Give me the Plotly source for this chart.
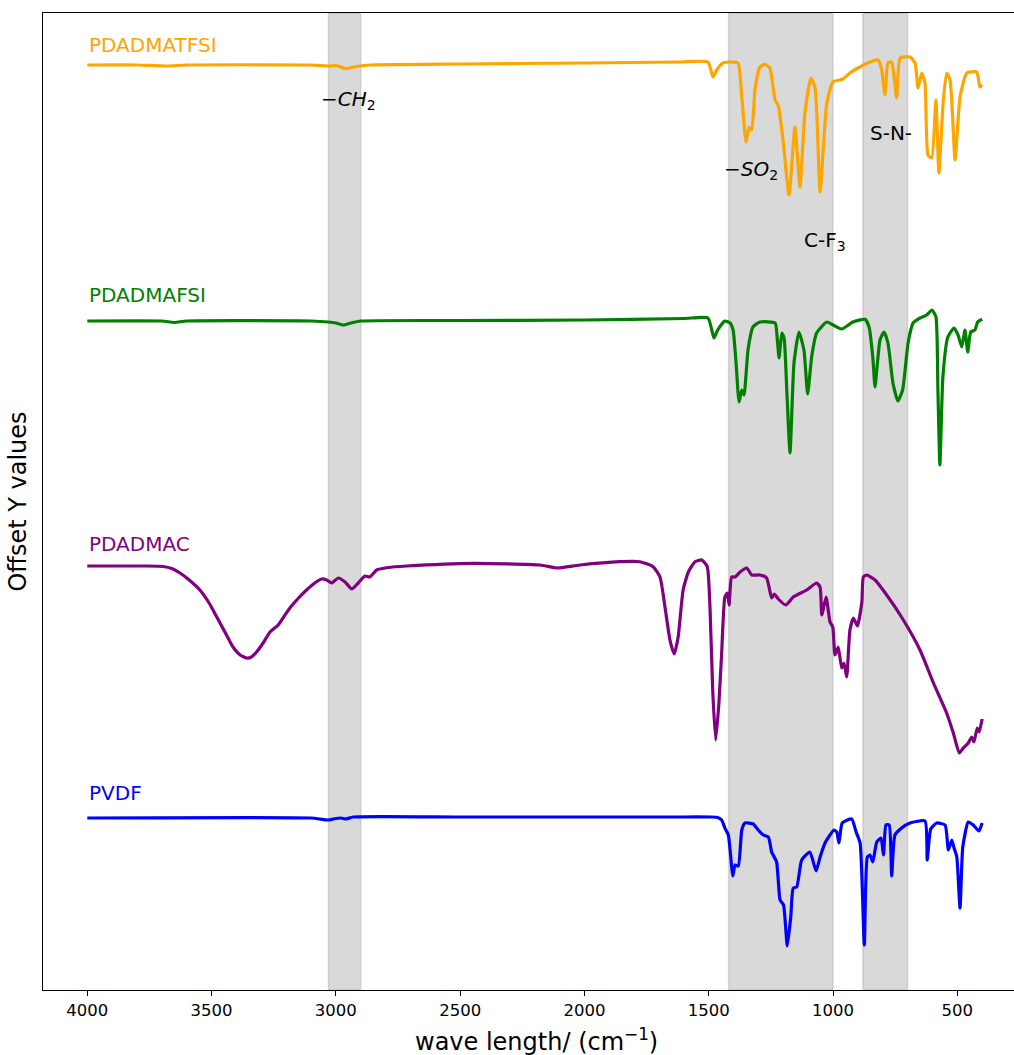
import plotly.graph_objects as go

# FTIR spectra, stacked with a vertical offset (signal = depth relative to each baseline)
names = ["PDADMATFSI", "PDADMAFSI", "PDADMAC", "PVDF"]
colors = ["orange", "green", "purple", "blue"]
offsets = [925, 669, 424, 172]
label_y = [945, 695, 446, 197.5]

tfsi_wn = [4000, 3800, 3680, 3600, 3100, 3020, 3000, 2960, 2930, 2900, 2860, 2500, 2000, 1620,
           1503, 1483, 1468, 1443, 1414, 1382, 1367, 1350, 1338, 1327, 1314, 1294, 1274, 1254,
           1233, 1221, 1201, 1177, 1153, 1133, 1113, 1089, 1072, 1052, 1025, 1000, 960, 932,
           892, 851, 819, 804, 791, 779, 764, 755, 744, 730, 690, 670, 658, 643, 630, 618,
           603, 586, 574, 557, 543, 529, 509, 489, 462, 422, 409, 400]
tfsi_sig = [0, 0, -1, 0, 0, -1, -0.5, -3.5, -2, -1, 0, 1, 2, 3,
            3, -12, -5, 2, 3, 2, -32, -77, -62, -65, -25, -2, 0.7, -3,
            -35, -40, -75, -130, -62, -122, -48, -13, -23, -127, -38, -17, -14, -8,
            -2, 3, 5, -5, -30, 2, 3, -10, -33, 7, 8, 2, -23, -8, -18, -90,
            -93, -35, -108, -38, -8, -15, -95, -32, -8, -7, -22, -20]

fsi_wn = [4000, 3700, 3650, 3600, 3100, 3030, 3000, 2970, 2940, 2900, 2500, 2000, 1600,
          1503, 1479, 1464, 1435, 1414, 1402, 1390, 1378, 1367, 1358, 1342, 1322, 1294,
          1233, 1225, 1217, 1206, 1197, 1186, 1173, 1157, 1137, 1117, 1102, 1086, 1066,
          1025, 1000, 965, 920, 871, 855, 840, 831, 811, 795, 779, 759, 739, 720, 698,
          678, 650, 623, 602, 586, 578, 570, 558, 538, 513, 497, 482, 469, 458, 446,
          429, 418, 400]
fsi_sig = [0, 0, -1.5, 0, 0, -1, -2, -4, -2, 0, 0.5, 1, 2.5,
           3, -17, -9, 0, -2, -9, -42, -81, -69, -74, -29, -6, -1,
           -2, -16, -37, -12, -17, -69, -132, -42, -11, -29, -73, -36, -12,
           -1, -4, -8, -1, 1.7, -6, -36, -66, -19, -11, -22, -62, -80, -69, -22,
           -2, 3, 6, 11, 4, -69, -144, -56, -16, -7, -14, -26, -9, -31, -11,
           -9, -1, 1.7]

cl_wn = [4000, 3760, 3695, 3660, 3627, 3590, 3547, 3510, 3479, 3440, 3414, 3385, 3359,
         3340, 3319, 3290, 3265, 3232, 3210, 3185, 3150, 3118, 3085, 3057,
         3037, 3017, 2990, 2963, 2936, 2910, 2883, 2863, 2836, 2790, 2715, 2448, 2179, 2110,
         2018, 1857, 1777, 1724, 1696, 1676, 1656, 1639, 1623, 1603, 1582, 1555, 1528,
         1506, 1495, 1484, 1472, 1459, 1448, 1435, 1425, 1418, 1408, 1394, 1374, 1347,
         1327, 1294, 1267, 1247, 1236, 1220, 1190, 1160, 1106, 1066, 1052, 1045, 1028,
         1012, 1001, 992, 979, 965, 956, 945, 932, 918, 902, 884, 878, 864, 831, 784,
         717, 650, 596, 543, 516, 492, 476, 456, 442, 433, 420, 412, 400]
cl_sig = [0, 0, -0.5, -2.5, -7, -14, -24, -37, -51, -69, -81, -89, -92,
          -91, -86, -76, -66, -59, -51, -42, -32, -24, -17, -13,
          -14, -17, -12, -16, -23, -17, -10, -11, -4, -1.5, 0, 2.7, 1, -2,
          1, 4.3, 4.3, -0.7, -11, -41, -74, -88, -71, -24, -6, 4.3, 6,
          -0.7, -41, -124, -174, -137, -87, -31, -27, -39, -11, -11, -6, -2,
          -9, -9, -12, -32, -28, -33, -39, -31, -24, -17, -21, -49, -31,
          -56, -61, -89, -81, -102, -97, -111, -64, -52, -60, -36, -11, -9, -14, -29,
          -54, -84, -117, -147, -167, -187, -182, -177, -171, -176, -162, -166, -153]

pvdf_wn = [4000, 3100, 3030, 3010, 2980, 2960, 2930, 2500, 2000, 1600, 1490, 1468, 1448,
           1435, 1421, 1414, 1403, 1394, 1381, 1367, 1354, 1321, 1301, 1280, 1260, 1247,
           1227, 1213, 1199, 1184, 1170, 1160, 1146, 1126, 1093, 1068, 1052, 1032, 996,
           985, 976, 963, 925, 907, 891, 874, 862, 851, 840, 824, 807, 797, 787, 774,
           764, 751, 724, 690, 630, 621, 607, 583, 549, 536, 522, 513, 502, 489, 478,
           456, 436, 413, 400]
pvdf_sig = [0, 0, -2, -1, 0, -1, 1, 1, 1, 1, 1, 0.7, -2,
            -10, -17, -32, -58, -47, -48, -12, -5, -6, -12, -17, -19, -34,
            -44, -82, -87, -128, -99, -70, -69, -42, -34, -53, -39, -25, -12,
            -14, -25, -5, -1, -14, -25, -127, -39, -37, -44, -24, -20, -37, -7, -7,
            -58, -17, -10, -5, -3, -42, -11, -5, -7, -32, -22, -30, -39, -90, -29,
            -4, -7, -13, -5]

wavenumbers = [tfsi_wn, fsi_wn, cl_wn, pvdf_wn]
signals = [tfsi_sig, fsi_sig, cl_sig, pvdf_sig]

# highlighted absorption bands (cm^-1)
bands = [(3030, 2900), (1420, 1000), (880, 700)]

# band annotations: (text, wavenumber, y)
notes = [
    ("\u2212<i>CH</i><sub>2</sub>", 2951, 890),
    ("\u2212<i>SO</i><sub>2</sub>", 1330, 820),
    ("C-F<sub>3</sub>", 1032, 749),
    ("S-N-", 766, 857),
]

x_ticks = [4000, 3500, 3000, 2500, 2000, 1500, 1000, 500]

FONT = "DejaVu Sans"

fig = go.Figure()

for lo, hi in bands:
    fig.add_shape(type="rect", xref="x", yref="paper", x0=lo, x1=hi, y0=0, y1=1,
                  fillcolor="rgba(128,128,128,0.3)",
                  line=dict(color="rgba(128,128,128,0.25)", width=1.5),
                  layer="below")

for name, col, off, wn, sig, ly in zip(names, colors, offsets, wavenumbers, signals, label_y):
    fig.add_trace(go.Scatter(
        x=wn, y=[off + s for s in sig], mode="lines", name=name,
        line=dict(color=col, width=3.2, shape="spline", smoothing=0.5),
        showlegend=False, hoverinfo="skip"))
    fig.add_annotation(x=4000, y=ly, xref="x", yref="y", text=name, showarrow=False,
                       xanchor="left", yanchor="middle",
                       font=dict(family=FONT, size=20, color=col))

for txt, wn, yy in notes:
    fig.add_annotation(x=wn, y=yy, xref="x", yref="y", text=txt, showarrow=False,
                       xanchor="center", yanchor="middle",
                       font=dict(family=FONT, size=20, color="black"))

# x-axis title, centred on the full axes box
fig.add_annotation(x=(536 - 43) / (1014 - 43), y=-(1040 - 990) / 977,
                   xref="paper", yref="paper", text="wave length/ (cm<sup>\u22121</sup>)",
                   showarrow=False, xanchor="center", yanchor="middle",
                   font=dict(family=FONT, size=24, color="black"))

fig.update_layout(
    width=1014, height=1055,
    margin=dict(l=43, r=0, t=13, b=65),
    paper_bgcolor="white", plot_bgcolor="white",
    font=dict(family=FONT, color="black"),
    xaxis=dict(range=[4178.2, 271.9], tickvals=x_ticks, ticks="outside", ticklen=5,
               tickwidth=1.2, tickcolor="black", showgrid=False, zeroline=False,
               showline=True, linecolor="black", linewidth=1.2, mirror=True,
               tickfont=dict(family=FONT, size=16.5, color="black")),
    yaxis=dict(range=[0, 977], showticklabels=False, ticks="", showgrid=False,
               zeroline=False, showline=True, linecolor="black", linewidth=1.2,
               title=dict(text="Offset Y values", standoff=8,
                          font=dict(family=FONT, size=24, color="black"))),
)

fig.write_html("out.html")
